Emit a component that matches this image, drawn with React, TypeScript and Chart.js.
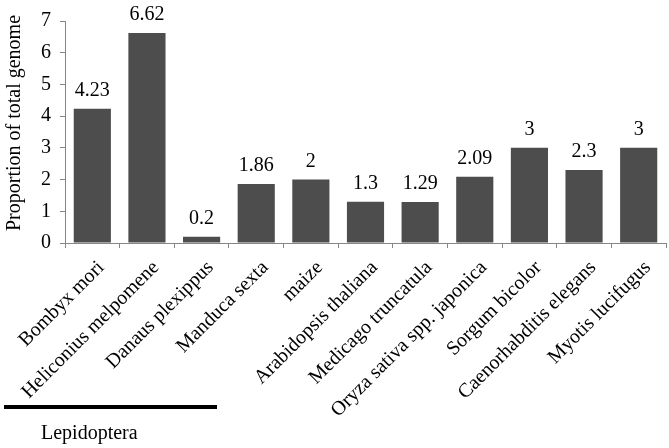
import React, { useEffect, useRef } from "react";
import { Chart, registerables } from "chart.js";

Chart.register(...registerables);

const categories = [
  "Bombyx mori",
  "Heliconius melpomene",
  "Danaus plexippus",
  "Manduca sexta",
  "maize",
  "Arabidopsis thaliana",
  "Medicago truncatula",
  "Oryza sativa spp. japonica",
  "Sorgum bicolor",
  "Caenorhabditis elegans",
  "Myotis lucifugus",
];
const values = [4.23, 6.62, 0.2, 1.86, 2, 1.3, 1.29, 2.09, 3, 2.3, 3];
const yTicks = [0, 1, 2, 3, 4, 5, 6, 7];
const yTitle = "Proportion of total genome";
const groupLabel = "Lepidoptera";

const FONT = '"Liberation Serif", "Times New Roman", serif';

export default function App() {
  const ref = useRef<HTMLCanvasElement | null>(null);

  useEffect(() => {
    const canvas = ref.current;
    if (!canvas) return;

    const valueLabels = {
      id: "valueLabels",
      afterDatasetsDraw(chart: any) {
        const ctx = chart.ctx;
        const meta = chart.getDatasetMeta(0);
        ctx.save();
        ctx.font = `20px ${FONT}`;
        ctx.fillStyle = "#000";
        ctx.textAlign = "center";
        ctx.textBaseline = "alphabetic";
        meta.data.forEach((bar: any, i: number) => {
          ctx.fillText(String(values[i]), bar.x, bar.y - 13);
        });
        ctx.restore();
      },
    };

    const extras = {
      id: "extras",
      afterDraw(chart: any) {
        const ctx = chart.ctx;
        ctx.save();
        // y-axis title
        ctx.font = `20px ${FONT}`;
        ctx.fillStyle = "#000";
        ctx.translate(15, 123);
        ctx.rotate(-Math.PI / 2);
        ctx.textAlign = "center";
        ctx.textBaseline = "middle";
        ctx.fillText(yTitle, 0, 0);
        ctx.restore();

        ctx.save();
        ctx.strokeStyle = "#000";
        ctx.lineWidth = 4;
        ctx.beginPath();
        ctx.moveTo(4, 407);
        ctx.lineTo(217, 407);
        ctx.stroke();
        ctx.font = `20px ${FONT}`;
        ctx.fillStyle = "#000";
        ctx.textAlign = "left";
        ctx.textBaseline = "alphabetic";
        ctx.fillText(groupLabel, 41, 439);
        ctx.restore();
      },
    };

    const chart = new Chart(canvas, {
      type: "bar",
      data: {
        labels: categories,
        datasets: [
          {
            data: values,
            backgroundColor: "#4d4d4d",
            borderWidth: 0,
            barPercentage: 0.68,
            categoryPercentage: 1,
          },
        ],
      },
      options: {
        responsive: false,
        animation: false,
        devicePixelRatio: 1,
        layout: { padding: { left: 0, top: 19, right: 3, bottom: 0 } },
        plugins: {
          legend: { display: false },
          tooltip: { enabled: false },
        },
        scales: {
          x: {
            offset: true,
            grid: {
              display: true,
              offset: true,
              drawOnChartArea: false,
              drawTicks: true,
              tickLength: 5,
              color: "#868686",
            },
            border: { display: true, color: "#868686", width: 1 },
            ticks: {
              autoSkip: false,
              maxRotation: 45,
              minRotation: 45,
              padding: 8,
              labelOffset: 9,
              color: "#000",
              font: { family: FONT, size: 20 },
            },
            afterFit(scale: any) {
              scale.height = 448 - 243;
            },
          },
          y: {
            min: 0,
            max: 7,
            afterBuildTicks(scale: any) {
              scale.ticks = yTicks.map((v) => ({ value: v }));
            },
            grid: {
              display: true,
              drawOnChartArea: false,
              drawTicks: true,
              tickLength: 5,
              color: "#868686",
            },
            border: { display: true, color: "#868686", width: 1 },
            ticks: {
              padding: 9,
              color: "#000",
              font: { family: FONT, size: 20 },
            },
            title: { display: false },
            afterFit(scale: any) {
              scale.width = 65;
            },
          },
        },
      },
      plugins: [valueLabels, extras],
    });

    return () => chart.destroy();
  }, []);

  return (
    <div style={{ position: "absolute", left: 0, top: 0, width: 669, height: 448 }}>
      <canvas ref={ref} width={669} height={448} style={{ display: "block" }} />
    </div>
  );
}
